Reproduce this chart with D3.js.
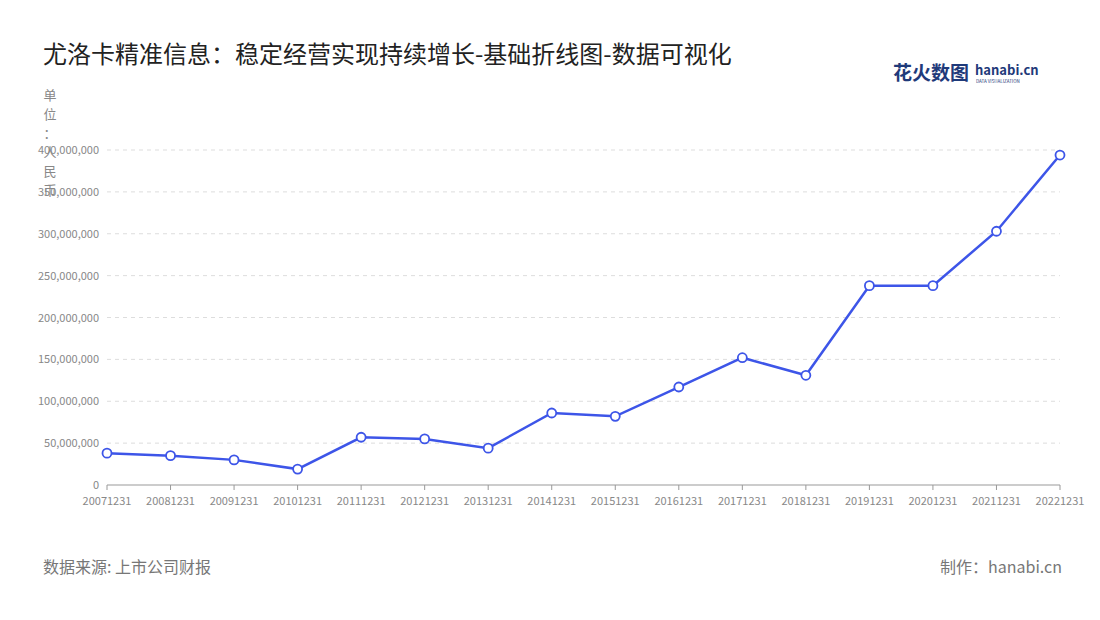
<!DOCTYPE html>
<html><head><meta charset="utf-8">
<script src="https://cdn.jsdelivr.net/npm/d3@7/dist/d3.min.js"></script>
<style>body{margin:0;background:#fff;font-family:"Noto Sans CJK SC","Noto Sans",sans-serif;}</style>
</head><body><svg id="c" width="1100" height="620"></svg>
<script>
const categories=["20071231","20081231","20091231","20101231","20111231","20121231","20131231","20141231","20151231","20161231","20171231","20181231","20191231","20201231","20211231","20221231"];
const values=[38e6,35e6,30e6,19e6,57e6,55e6,44e6,86e6,82e6,117e6,152e6,131e6,238e6,238e6,303e6,394e6];
const yTicks=[0,50e6,100e6,150e6,200e6,250e6,300e6,350e6,400e6];
const svg=d3.select("#c");
const x=d3.scalePoint().domain(categories).range([107,1060]);
const y=d3.scaleLinear().domain([0,400e6]).range([485,150]);
svg.append("text").attr("x",43).attr("y",63).attr("font-size",24).attr("fill","#222").text("尤洛卡精准信息：稳定经营实现持续增长-基础折线图-数据可视化");
const g=svg.append("g");
g.selectAll("line.grid").data(yTicks.slice(1)).join("line").attr("x1",107).attr("x2",1060).attr("y1",d=>y(d)).attr("y2",d=>y(d)).attr("stroke","#ddd").attr("stroke-dasharray","4,4");
g.selectAll("text.yt").data(yTicks).join("text").attr("x",99).attr("y",d=>y(d)+4).attr("text-anchor","end").attr("font-size",11).attr("fill","#888").text(d=>d3.format(",")(d));
svg.append("line").attr("x1",107).attr("x2",1060).attr("y1",485).attr("y2",485).attr("stroke","#999");
svg.selectAll("line.xt").data(categories).join("line").attr("x1",d=>x(d)).attr("x2",d=>x(d)).attr("y1",485).attr("y2",490).attr("stroke","#999");
svg.selectAll("text.xt").data(categories).join("text").attr("x",d=>x(d)).attr("y",505).attr("text-anchor","middle").attr("font-size",11).attr("fill","#888").text(d=>d);
"单位：人民币".split("").forEach((ch,i)=>svg.append("text").attr("x",50).attr("y",100+i*19).attr("text-anchor","middle").attr("font-size",13).attr("fill","#888").text(ch));
svg.append("path").datum(values).attr("fill","none").attr("stroke","#3d55e8").attr("stroke-width",2.5)
 .attr("d",d3.line().x((d,i)=>x(categories[i])).y(d=>y(d)));
svg.selectAll("circle").data(values).join("circle").attr("cx",(d,i)=>x(categories[i])).attr("cy",d=>y(d)).attr("r",4.5).attr("fill","#fff").attr("stroke","#3d55e8").attr("stroke-width",1.8);
svg.append("text").attr("x",43).attr("y",573).attr("font-size",16).attr("fill","#777").text("数据来源: 上市公司财报");
svg.append("text").attr("x",1062).attr("y",573).attr("text-anchor","end").attr("font-size",16).attr("fill","#777").text("制作：hanabi.cn");
svg.append("text").attr("x",893).attr("y",80).attr("font-size",19).attr("font-weight","bold").attr("fill","#1f3a7a").text("花火数图");
svg.append("text").attr("x",975).attr("y",75).attr("font-size",13).attr("font-weight","bold").attr("fill","#1f3a7a").text("hanabi.cn");
svg.append("text").attr("x",976).attr("y",83).attr("font-size",4.5).attr("fill","#1f3a7a").text("DATA VISUALIZATION");
</script></body></html>
